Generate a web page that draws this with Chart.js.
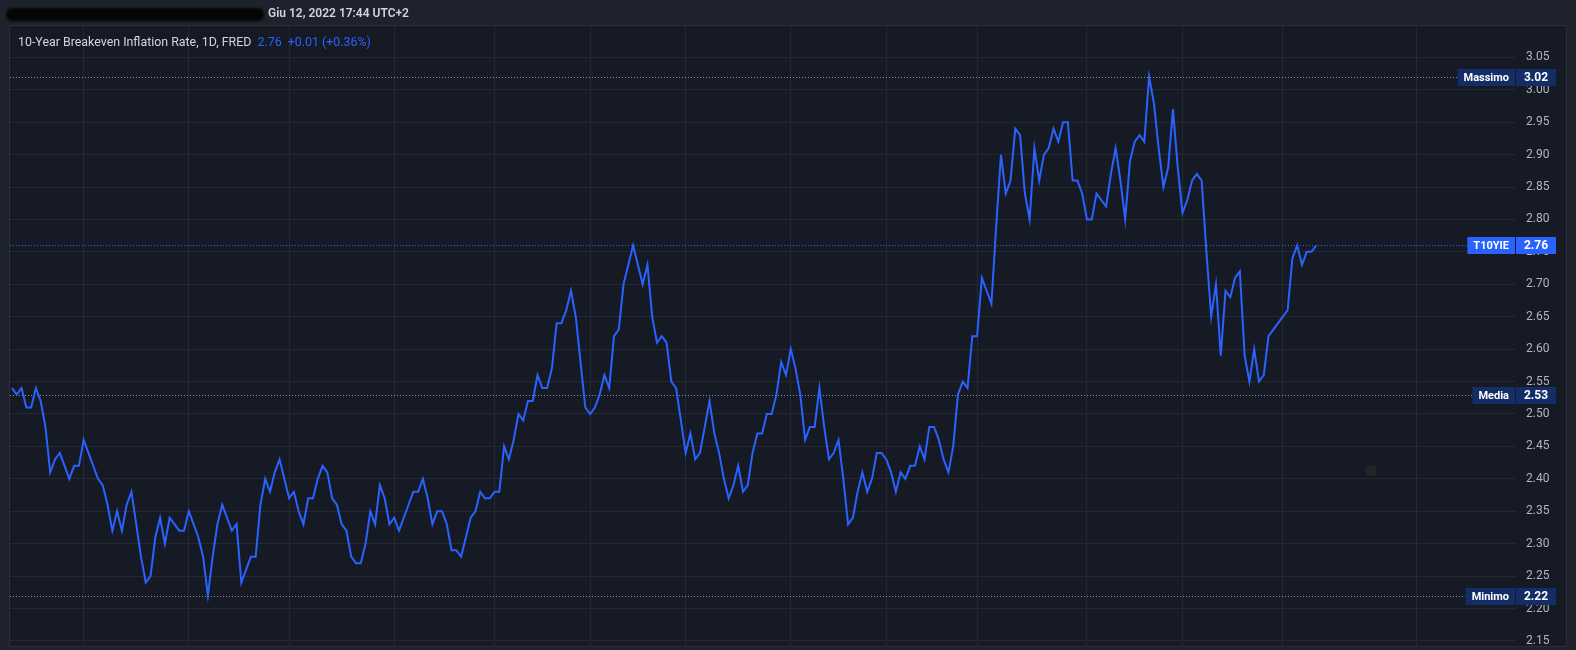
<!DOCTYPE html>
<html>
<head>
<meta charset="utf-8">
<script src="https://cdn.jsdelivr.net/npm/chart.js@4.4.1/dist/chart.umd.min.js"></script>
<style>
  html, body { margin: 0; padding: 0; background: #1e222d; }
  #wrap { position: relative; width: 1576px; height: 650px; overflow: hidden; font-family: Roboto, "Noto Sans", sans-serif; }
  #chart { position: absolute; left: 0; top: 0; }
  #redact { position: absolute; left: 6px; top: 8px; width: 258px; height: 13px; background: #050505; border-radius: 6px; filter: blur(1.2px); }
  #stamp { position: absolute; left: 268px; top: 6px; color: #d1d4dc; font-size: 12px; font-weight: 600; }
  #legend { position: absolute; left: 18px; top: 34px; font-size: 12.4px; color: #d1d4dc; white-space: pre; }
  #legend .blue { color: #2962ff; }
  #blip { position: absolute; left: 1366px; top: 466px; width: 10px; height: 10px; background: #242424; }
</style>
</head>
<body>
<div id="wrap">
  <canvas id="chart" width="1576" height="650"></canvas>
  <div id="redact"></div>
  <div id="stamp">Giu 12, 2022 17:44 UTC+2</div>
  <div id="legend"></div>
  <div id="blip"></div>
</div>
<script>
// series info
var seriesName = 'T10YIE';
var seriesTitle = '10-Year Breakeven Inflation Rate, 1D, FRED';

// daily values (oldest first)
var values = [
  2.54, 2.53, 2.54, 2.51, 2.51, 2.54, 2.52, 2.48, 2.41, 2.43,
  2.44, 2.42, 2.40, 2.42, 2.42, 2.46, 2.44, 2.42, 2.40, 2.39,
  2.36, 2.32, 2.35, 2.32, 2.36, 2.38, 2.33, 2.28, 2.24, 2.25,
  2.31, 2.34, 2.30, 2.34, 2.33, 2.32, 2.32, 2.35, 2.33, 2.31,
  2.28, 2.22, 2.28, 2.33, 2.36, 2.34, 2.32, 2.33, 2.24, 2.26,
  2.28, 2.28, 2.36, 2.40, 2.38, 2.41, 2.43, 2.40, 2.37, 2.38,
  2.35, 2.33, 2.37, 2.37, 2.40, 2.42, 2.41, 2.37, 2.36, 2.33,
  2.32, 2.28, 2.27, 2.27, 2.30, 2.35, 2.33, 2.39, 2.37, 2.33,
  2.34, 2.32, 2.34, 2.36, 2.38, 2.38, 2.40, 2.37, 2.33, 2.35,
  2.35, 2.33, 2.29, 2.29, 2.28, 2.31, 2.34, 2.35, 2.38, 2.37,
  2.37, 2.38, 2.38, 2.45, 2.43, 2.46, 2.50, 2.49, 2.52, 2.52,
  2.56, 2.54, 2.54, 2.57, 2.64, 2.64, 2.66, 2.69, 2.65, 2.58,
  2.51, 2.50, 2.51, 2.53, 2.56, 2.54, 2.62, 2.63, 2.70, 2.73,
  2.76, 2.73, 2.70, 2.73, 2.65, 2.61, 2.62, 2.61, 2.55, 2.54,
  2.49, 2.44, 2.47, 2.43, 2.44, 2.48, 2.52, 2.47, 2.44, 2.40,
  2.37, 2.39, 2.42, 2.38, 2.39, 2.44, 2.47, 2.47, 2.50, 2.50,
  2.53, 2.58, 2.56, 2.60, 2.57, 2.53, 2.46, 2.48, 2.48, 2.54,
  2.48, 2.43, 2.44, 2.46, 2.40, 2.33, 2.34, 2.38, 2.41, 2.38,
  2.40, 2.44, 2.44, 2.43, 2.41, 2.38, 2.41, 2.40, 2.42, 2.42,
  2.45, 2.43, 2.48, 2.48, 2.46, 2.43, 2.41, 2.45, 2.53, 2.55,
  2.54, 2.62, 2.62, 2.71, 2.69, 2.67, 2.79, 2.90, 2.84, 2.86,
  2.94, 2.93, 2.84, 2.80, 2.91, 2.86, 2.90, 2.91, 2.94, 2.92,
  2.95, 2.95, 2.86, 2.86, 2.84, 2.80, 2.80, 2.84, 2.83, 2.82,
  2.87, 2.91, 2.86, 2.80, 2.89, 2.92, 2.93, 2.92, 3.02, 2.98,
  2.91, 2.85, 2.88, 2.97, 2.88, 2.81, 2.83, 2.86, 2.87, 2.86,
  2.75, 2.65, 2.70, 2.59, 2.69, 2.68, 2.71, 2.72, 2.59, 2.55,
  2.60, 2.55, 2.56, 2.62, 2.63, 2.64, 2.65, 2.66, 2.74, 2.76,
  2.73, 2.75, 2.75, 2.76
];

// bar index of each month start (vertical grid lines)
var monthStarts = [15, 37, 58, 80, 101, 121, 141, 163, 183, 202, 225, 245, 266, 294];

// price axis tick labels
var priceTicks = [2.15, 2.20, 2.25, 2.30, 2.35, 2.40, 2.45, 2.50, 2.55, 2.60,
                  2.65, 2.70, 2.75, 2.80, 2.85, 2.90, 2.95, 3.00, 3.05];

// visible ranges of the two axes
var xRange = [-0.42, 314.8];
var yRange = [2.1422, 3.0983];

var FONT = 'Roboto, "Noto Sans", sans-serif';
var BOX_FONT = 'bold 11px ' + FONT;

// stats shown on the price axis
var last = values[values.length - 1];
var prev = values[values.length - 2];
var maxV = Math.max.apply(null, values);
var minV = Math.min.apply(null, values);
var meanV = values.reduce(function(a, b) { return a + b; }, 0) / values.length;

// header legend
var chg = last - prev;
document.getElementById('legend').innerHTML = seriesTitle + '  <span class="blue">' + last.toFixed(2) +
  '  ' + (chg >= 0 ? '+' : '') + chg.toFixed(2) + ' (' + (chg >= 0 ? '+' : '') + (chg / prev * 100).toFixed(2) + '%)</span>';

var markers = [
  { name: 'Massimo', value: maxV, box: '#142d66', line: '#8a8e99' },
  { name: 'Media', value: meanV, box: '#142d66', line: '#8a8e99' },
  { name: 'Minimo', value: minV, box: '#142d66', line: '#8a8e99' },
  { name: seriesName, value: last, box: '#2962ff', line: '#2962ff' }
];

// pane background + border
var panePlugin = {
  id: 'pane',
  beforeDraw: function(chart) {
    var ctx = chart.ctx, a = chart.chartArea, yS = chart.scales.y;
    ctx.save();
    ctx.fillStyle = '#1e222d';
    ctx.fillRect(0, 0, chart.width, chart.height);
    ctx.fillStyle = '#161a25';
    ctx.fillRect(a.left, a.top, yS.right - a.left, a.bottom - a.top);
    ctx.strokeStyle = '#2a2e39';
    ctx.lineWidth = 1;
    ctx.strokeRect(a.left - 0.5, a.top - 0.5, yS.right - a.left + 1, a.bottom - a.top + 1);
    ctx.restore();
  }
};

// dotted level lines and the boxes on the price axis
var levelPlugin = {
  id: 'levels',
  beforeDatasetsDraw: function(chart) {
    var ctx = chart.ctx, a = chart.chartArea, yS = chart.scales.y;
    ctx.save();
    ctx.font = BOX_FONT;
    ctx.lineWidth = 1;
    ctx.setLineDash([1, 2]);
    markers.forEach(function(m) {
      var y = Math.round(yS.getPixelForValue(Number(m.value.toFixed(2)))) + 0.5;
      var w = ctx.measureText(m.name).width + 12;
      ctx.strokeStyle = m.line;
      ctx.beginPath();
      ctx.moveTo(a.left, y);
      ctx.lineTo(a.right - w - 1, y);
      ctx.stroke();
    });
    ctx.restore();
  },
  afterDraw: function(chart) {
    var ctx = chart.ctx, a = chart.chartArea, yS = chart.scales.y;
    ctx.save();
    ctx.textBaseline = 'middle';
    ctx.textAlign = 'center';
    markers.forEach(function(m) {
      var v = Number(m.value.toFixed(2));
      var y = Math.round(yS.getPixelForValue(v));
      ctx.font = BOX_FONT;
      var w = ctx.measureText(m.name).width + 12;
      ctx.fillStyle = m.box;
      ctx.fillRect(a.right - w - 1, y - 8, w, 17);
      ctx.fillRect(a.right, y - 8, 40, 17);
      ctx.fillStyle = '#ffffff';
      ctx.fillText(m.name, a.right - 1 - w / 2, y + 1);
      ctx.font = 'bold 12px ' + FONT;
      ctx.fillText(v.toFixed(2), a.right + 20, y + 1);
    });
    ctx.restore();
  }
};

var ctx = document.getElementById('chart').getContext('2d');

var myChart = new Chart(ctx, {
  type: 'line',
  data: {
    datasets: [{
      label: seriesName,
      data: values.map(function(v, i) { return { x: i, y: v }; }),
      borderColor: '#2962ff',
      borderWidth: 2,
      pointRadius: 0,
      tension: 0,
      fill: false
    }]
  },
  options: {
    responsive: false,
    animation: false,
    layout: { padding: { left: 10, top: 26, right: 10, bottom: 4 } },
    plugins: {
      legend: { display: false },
      tooltip: { enabled: false }
    },
    scales: {
      x: {
        type: 'linear',
        min: xRange[0],
        max: xRange[1],
        afterBuildTicks: function(s) { s.ticks = monthStarts.map(function(v) { return { value: v }; }); },
        afterFit: function(s) { s.height = 0; s.paddingLeft = 0; s.paddingRight = 0; },
        ticks: { display: false },
        grid: { color: '#242833', drawTicks: false },
        border: { display: false }
      },
      y: {
        position: 'right',
        min: yRange[0],
        max: yRange[1],
        afterBuildTicks: function(s) { s.ticks = priceTicks.map(function(v) { return { value: v }; }); },
        // keep label overflow from shrinking the plot
        afterFit: function(s) { s.width = 50; s.paddingTop = 0; s.paddingBottom = 0; },
        ticks: {
          color: '#b2b5be',
          padding: 10,
          font: { family: FONT, size: 12 },
          callback: function(v) { return Number(v).toFixed(2); }
        },
        grid: { color: '#242833', drawTicks: false },
        border: { display: false }
      }
    }
  },
  plugins: [panePlugin, levelPlugin]
});
</script>
</body>
</html>
